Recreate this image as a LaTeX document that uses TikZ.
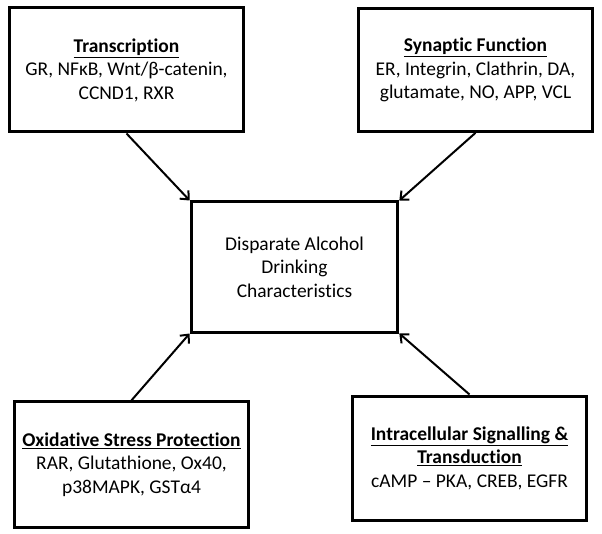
\documentclass[tikz,border=0pt]{standalone}
\usepackage{fontspec}
\setmainfont[Ligatures=NoCommon]{Carlito}
\usetikzlibrary{arrows.meta}
\tikzset{
	topic/.style={draw=black,line width=2.25pt,align=center,inner sep=2pt,font=\fontsize{14.6}{17.6}\selectfont},
	link/.style={line width=1.5pt,-{Straight Barb[length=5pt,width=9pt]}},
}
\newcommand{\topichead}[1]{\underline{\textbf{#1}}}

\begin{document}
\begin{tikzpicture}[x=0.75pt,y=-0.75pt]
		\useasboundingbox (0,0) rectangle (602,534);
		\node[topic,minimum width=175pt,minimum height=93pt] (trans) at (126.5,70) {\topichead{Transcription}\\GR, NFκB, Wnt/β-catenin,\\CCND1, RXR};
		\node[topic,minimum width=176pt,minimum height=92pt] (syn) at (475.5,70) {\topichead{Synaptic Function}\\ER, Integrin, Clathrin, DA,\\glutamate, NO, APP, VCL};
		\node[topic,minimum width=155pt,minimum height=97.5pt] (alc) at (294.5,267) {Disparate Alcohol\\Drinking\\Characteristics};
		\node[topic,minimum width=175pt,minimum height=94pt] (oxi) at (131.5,464.5) {\topichead{Oxidative Stress Protection}\\RAR, Glutathione, Ox40,\\p38MAPK, GSTα4};
		\node[topic,minimum width=176pt,minimum height=93pt] (sig) at (469.5,458) {\topichead{Intracellular Signalling \&}\\\topichead{Transduction}\\cAMP – PKA, CREB, EGFR};
		\draw[link] (trans.south) -- (alc.north west);
		\draw[link] (syn.south) -- (alc.north east);
		\draw[link] (oxi.north) -- (alc.south west);
		\draw[link] (sig.north) -- (alc.south east);
	\end{tikzpicture}
\end{document}
